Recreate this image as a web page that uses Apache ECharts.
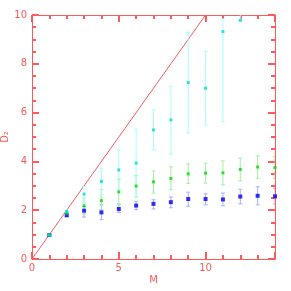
<!DOCTYPE html>
<html>
<head>
<meta charset="utf-8">
<script src="https://cdn.jsdelivr.net/npm/echarts@6/dist/echarts.min.js"></script>
<style>html,body{margin:0;padding:0;background:#fff}#c{width:291px;height:291px}</style>
</head>
<body>
<div id="c"></div>
<script>
var cyanX    = [1, 2, 3, 4, 5, 6, 7, 8, 9, 10, 11, 12];
var cyanVal  = [0.98, 1.95, 2.66, 3.18, 3.65, 3.93, 5.29, 5.70, 7.23, 7.00, 9.32, 9.78];
var cyanLow  = [0.98, 1.90, 2.29, 2.63, 2.84, 2.56, 4.47, 4.30, 5.16, 5.49, 5.63, 9.78];
var cyanHigh = [0.98, 2.00, 2.97, 3.72, 4.47, 5.32, 6.10, 7.08, 9.29, 8.50, 9.84, 10.5];

var greenX    = [1, 2, 3, 4, 5, 6, 7, 8, 9, 10, 11, 12, 13, 14];
var greenVal  = [0.98, 1.88, 2.18, 2.39, 2.75, 2.99, 3.16, 3.30, 3.49, 3.52, 3.53, 3.67, 3.77, 3.75];
var greenLow  = [0.98, 1.84, 1.85, 2.02, 2.22, 2.54, 2.70, 2.84, 3.10, 3.11, 3.04, 3.20, 3.31, 3.30];
var greenHigh = [0.98, 1.92, 2.50, 2.84, 3.27, 3.42, 3.61, 3.78, 3.90, 3.93, 4.02, 4.13, 4.23, 4.20];

var blueX    = [1, 2, 3, 4, 5, 6, 7, 8, 9, 10, 11, 12, 13, 14];
var blueVal  = [0.98, 1.79, 1.98, 1.91, 2.05, 2.19, 2.26, 2.33, 2.46, 2.46, 2.44, 2.56, 2.59, 2.57];
var blueLow  = [0.98, 1.74, 1.72, 1.61, 1.91, 2.02, 2.05, 2.10, 2.17, 2.22, 2.18, 2.26, 2.22, 2.25];
var blueHigh = [0.98, 1.84, 2.15, 2.22, 2.25, 2.36, 2.43, 2.54, 2.74, 2.67, 2.70, 2.86, 2.96, 2.90];

var diagX = [0, 10];
var diagY = [0, 10];

var X_MIN = 0, X_MAX = 14, X_STEP = 5, X_MINOR = 5;
var Y_MIN = 0, Y_MAX = 10, Y_STEP = 2, Y_MINOR = 4;

var RED = '#ff5a5a';
var FONT = 'DejaVu Sans';

function zip2(a, b) { return a.map(function (v, i) { return [v, b[i]]; }); }
function zip3(a, b, c) { return a.map(function (v, i) { return [v, b[i], c[i]]; }); }

function errBar(color) {
  return function (params, api) {
    var x = api.value(0);
    var p1 = api.coord([x, api.value(1)]);
    var p2 = api.coord([x, api.value(2)]);
    var w = 2;
    var st = { stroke: color, lineWidth: 1 };
    return {
      type: 'group',
      children: [
        { type: 'line', shape: { x1: p1[0], y1: p1[1], x2: p2[0], y2: p2[1] }, style: st },
        { type: 'line', shape: { x1: p1[0] - w, y1: p1[1], x2: p1[0] + w, y2: p1[1] }, style: st },
        { type: 'line', shape: { x1: p2[0] - w, y1: p2[1], x2: p2[0] + w, y2: p2[1] }, style: st }
      ]
    };
  };
}

function xAx(pos, show) {
  return {
    type: 'value', position: pos, min: X_MIN, max: X_MAX, interval: X_STEP,
    name: show ? 'M' : '', nameLocation: 'middle', nameGap: 16, nameMoveOverlap: false,
    nameTextStyle: { color: RED, fontFamily: FONT, fontSize: 10 },
    axisLine: { show: true, onZero: false, lineStyle: { color: RED, width: 1 } },
    axisTick: { show: true, inside: true, length: 7, lineStyle: { color: RED, width: 2 } },
    minorTick: { show: true, splitNumber: X_MINOR, length: 4, lineStyle: { color: RED, width: 2 } },
    axisLabel: { show: show, color: RED, fontFamily: FONT, fontSize: 10, margin: 4, showMaxLabel: false },
    splitLine: { show: false }, minorSplitLine: { show: false }
  };
}
function yAx(pos, show) {
  return {
    type: 'value', position: pos, min: Y_MIN, max: Y_MAX, interval: Y_STEP,
    name: show ? 'D\u2082' : '', nameLocation: 'middle', nameGap: 22, nameRotate: 90, nameMoveOverlap: false,
    nameTextStyle: { color: RED, fontFamily: FONT, fontSize: 10 },
    axisLine: { show: true, onZero: false, lineStyle: { color: RED, width: 1 } },
    axisTick: { show: true, inside: true, length: 7, lineStyle: { color: RED, width: 2 } },
    minorTick: { show: true, splitNumber: Y_MINOR, length: 4, lineStyle: { color: RED, width: 2 } },
    axisLabel: { show: show, color: RED, fontFamily: FONT, fontSize: 10, margin: 5 },
    splitLine: { show: false }, minorSplitLine: { show: false }
  };
}

var chart = echarts.init(document.getElementById('c'), null, { renderer: 'canvas' });
chart.setOption({
  animation: false,
  backgroundColor: '#ffffff',
  grid: { left: 32, right: 16, top: 15, bottom: 32, containLabel: false, outerBoundsMode: 'none' },
  xAxis: [xAx('bottom', true), xAx('top', false)],
  yAxis: [yAx('left', true), yAx('right', false)],
  series: [
    { type: 'line', data: zip2(diagX, diagY), symbol: 'none', lineStyle: { color: RED, width: 1 }, z: 1 },
    { type: 'custom', data: zip3(blueX, blueLow, blueHigh), renderItem: errBar('#aab0f2'), clip: true, z: 2 },
    { type: 'custom', data: zip3(greenX, greenLow, greenHigh), renderItem: errBar('#a6eea6'), clip: true, z: 2 },
    { type: 'custom', data: zip3(cyanX, cyanLow, cyanHigh), renderItem: errBar('#a6ffff'), clip: true, z: 2 },
    { type: 'scatter', data: zip2(blueX, blueVal), symbol: 'rect', symbolSize: 4, itemStyle: { color: '#0000f0' }, z: 3 },
    { type: 'scatter', data: zip2(greenX, greenVal), symbol: 'rect', symbolSize: 3, itemStyle: { color: '#00dd00' }, z: 3 },
    { type: 'scatter', data: zip2(cyanX, cyanVal), symbol: 'rect', symbolSize: 3, itemStyle: { color: '#00d8e0' }, z: 3 }
  ]
});
</script>
</body>
</html>
